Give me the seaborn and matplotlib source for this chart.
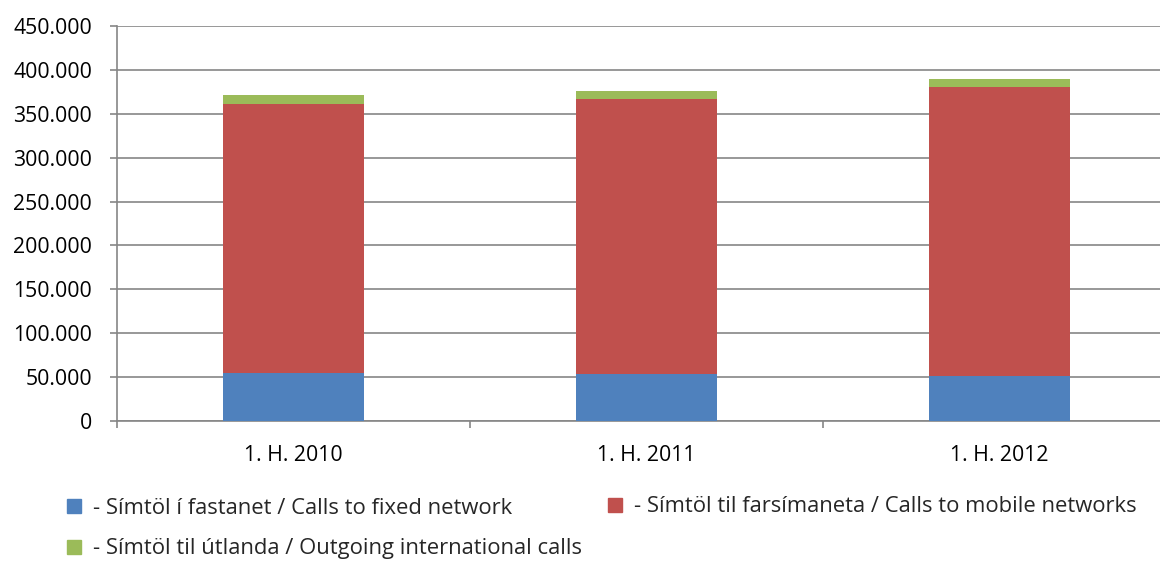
import numpy as np
import pandas as pd
import matplotlib
matplotlib.use("Agg")
import matplotlib.pyplot as plt
import seaborn as sns
from matplotlib.patches import Patch
from matplotlib.ticker import FuncFormatter

periods = ["1. H. 2010", "1. H. 2011", "1. H. 2012"]
fixed = [54500, 53400, 51800]
mobile = [306100, 312900, 328500]
international = [11100, 9100, 8800]

labels = [
    "- Símtöl í fastanet / Calls to fixed network",
    "- Símtöl til farsímaneta / Calls to mobile networks",
    "- Símtöl til útlanda / Outgoing international calls",
]
colors = ["#4f81bd", "#c0504d", "#9bbb59"]

df = pd.DataFrame({"period": periods, "fixed": fixed, "mobile": mobile,
                   "international": international})

sns.set_style("white")
plt.rcParams["font.family"] = ["Open Sans", "DejaVu Sans"]

W, H = 1160, 563
fig = plt.figure(figsize=(W / 100, H / 100), dpi=100)
ax = fig.add_axes([117 / W, 1 - 421 / H, 1 - 117 / W, (421 - 26) / H])

grid_c = "#868686"
fs = 15.3
bottom = np.zeros(len(df))
for col, color in zip(["fixed", "mobile", "international"], colors):
    sns.barplot(data=df, x="period", y=col, color=color, width=0.4,
                bottom=bottom, ax=ax, saturation=1, linewidth=0, zorder=3)
    bottom += df[col].values

ax.set_xlim(-0.5, 2.455)
ax.set_ylim(0, 450000)
ax.set_yticks(np.arange(0, 450001, 50000))
ax.yaxis.set_major_formatter(FuncFormatter(lambda v, p: f"{int(v):,}".replace(",", ".")))
ax.set_xlabel("")
ax.set_ylabel("")
ax.grid(axis="y", color=grid_c, lw=1.2, zorder=0)
ax.set_axisbelow(True)

for s in ["top", "right"]:
    ax.spines[s].set_visible(False)
for s in ["left", "bottom"]:
    ax.spines[s].set_color(grid_c)
    ax.spines[s].set_linewidth(1.2)

ax.set_xticks([-0.5, 0.5, 1.5], minor=True)
ax.tick_params(axis="x", which="major", length=0, pad=17, labelsize=fs, colors="black")
ax.tick_params(axis="x", which="minor", length=5, width=1.2, color=grid_c,
               direction="out", bottom=True)
ax.tick_params(axis="y", length=5, width=1.2, color=grid_c, direction="out", left=True,
               pad=13, labelsize=fs, labelcolor="black")

leg_kw = dict(frameon=False, fontsize=15.8, handlelength=0.64, handleheight=0.6,
              handletextpad=0.54, labelspacing=0.9, borderpad=0, borderaxespad=0)
leg1 = fig.legend([Patch(color=colors[0]), Patch(color=colors[2])],
                  [labels[0], labels[2]], loc="center left",
                  bbox_to_anchor=(67 / W, 1 - 528.5 / H), **leg_kw)
leg2 = fig.legend([Patch(color=colors[1])], [labels[1]], loc="center left",
                  bbox_to_anchor=(608 / W, 1 - 507 / H), **leg_kw)

fig.savefig("out.png", dpi=100)
